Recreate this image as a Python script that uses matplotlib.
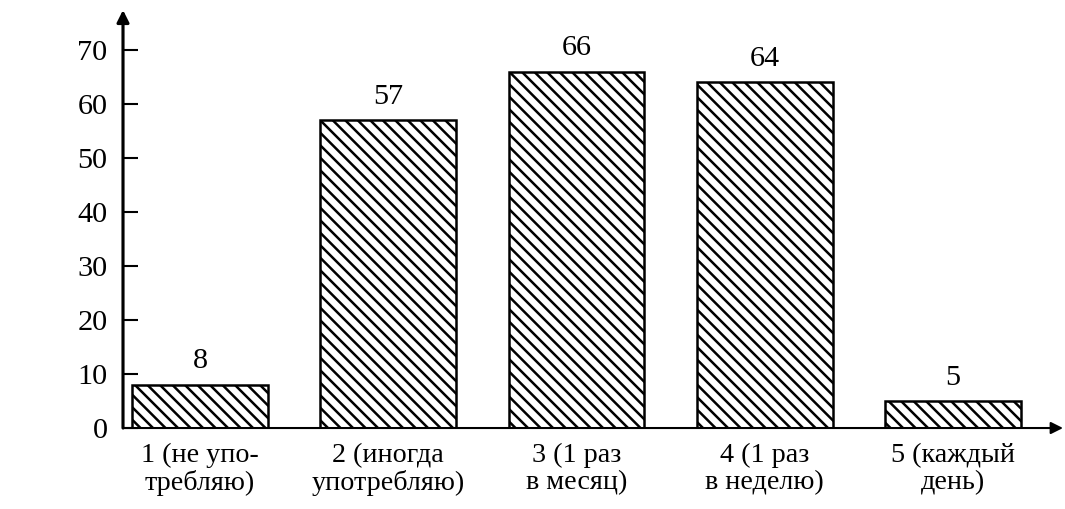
import matplotlib
matplotlib.use("Agg")
import matplotlib.pyplot as plt

categories = ["1 (не упо-\nтребляю)", "2 (иногда\nупотребляю)", "3 (1 раз\nв месяц)",
              "4 (1 раз\nв неделю)", "5 (каждый\nдень)"]
values = [8, 57, 66, 64, 5]
yticks = [0, 10, 20, 30, 40, 50, 60, 70]

plt.rcParams['font.family'] = ['Liberation Serif', 'DejaVu Serif']
plt.rcParams['hatch.linewidth'] = 1.2

# dpi 150 so that the hatch spacing comes out close to the scan
fig = plt.figure(figsize=(1065 / 150, 509 / 150), dpi=150)
ax = fig.add_axes([0.1155, 0.1591, 0.8826, 0.8212])

x = list(range(len(values)))
bars = ax.bar(x, values, width=0.72, color='white', edgecolor='black',
              linewidth=1.2, hatch='\\\\\\\\', zorder=2)
ax.bar_label(bars, labels=[str(v) for v in values], padding=5, fontsize=14.5)

ax.set_xlim(-0.409, 4.584)
ax.set_ylim(0, 77.4)

ax.set_xticks(x)
ax.set_xticklabels(categories, fontsize=13.5, linespacing=1.12)
ax.set_yticks(yticks)
ax.set_yticklabels([str(t) for t in yticks], fontsize=14.5)
ax.tick_params(axis='x', length=0, pad=7)
ax.tick_params(axis='y', direction='in', length=7, width=1.0, pad=7.5)

for s in ax.spines.values():
    s.set_visible(False)

# axes drawn as arrows
ax.annotate('', xy=(0, 1), xytext=(0, 0), xycoords='axes fraction',
            arrowprops=dict(arrowstyle='-|>', lw=1.5, color='black',
                            mutation_scale=12, shrinkA=0, shrinkB=0), zorder=3)
ax.annotate('', xy=(1, 0), xytext=(0, 0), xycoords='axes fraction',
            arrowprops=dict(arrowstyle='-|>', lw=1.0, color='black',
                            mutation_scale=12, shrinkA=0, shrinkB=0), zorder=3)

fig.savefig("out.png", dpi=150)
